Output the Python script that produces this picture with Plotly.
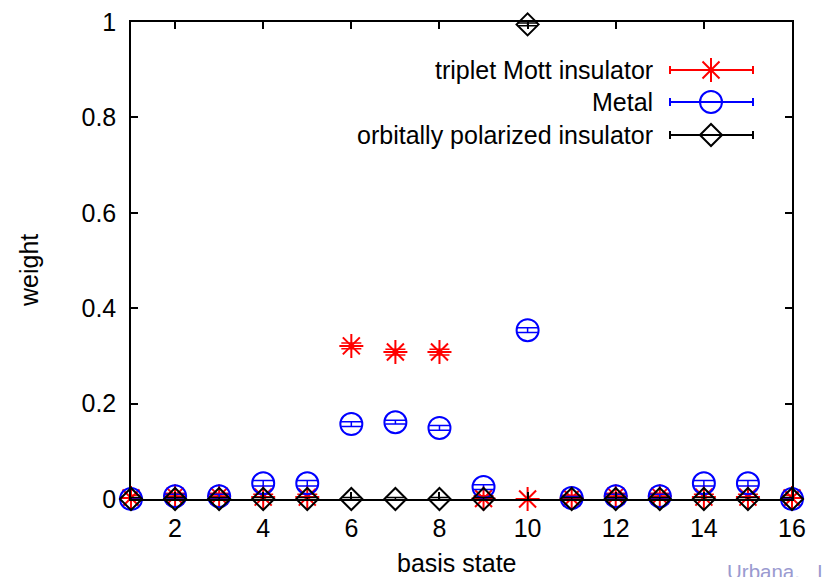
import plotly.graph_objects as go

states = list(range(1, 17))
triplet = [0.002, 0.006, 0.006, 0.004, 0.004, 0.321, 0.308, 0.308, 0.001, 0.000, 0.002, 0.006, 0.006, 0.004, 0.004, 0.002]
triplet_err = [0.006, 0.006, 0.006, 0.006, 0.006, 0.006, 0.006, 0.006, 0.006, 0.0, 0.006, 0.006, 0.006, 0.006, 0.006, 0.006]
metal = [0.000, 0.006, 0.006, 0.033, 0.033, 0.157, 0.161, 0.149, 0.025, 0.354, 0.002, 0.006, 0.006, 0.033, 0.033, 0.000]
metal_err = [0.002, 0.004, 0.004, 0.006, 0.006, 0.005, 0.004, 0.005, 0.005, 0.005, 0.003, 0.004, 0.004, 0.006, 0.006, 0.002]
opi = [0.0] * 9 + [0.995] + [0.0] * 6
opi_err = [0.003] * 16

names = ["triplet Mott insulator", "Metal", "orbitally polarized insulator"]
colors = ["#ff0000", "#0000ff", "#000000"]
xticks = [2, 4, 6, 8, 10, 12, 14, 16]
yticks = [0, 0.2, 0.4, 0.6, 0.8, 1]
ytick_text = ["0", "0.2", "0.4", "0.6", "0.8", "1"]

FONT = "Liberation Sans, Arial, sans-serif"
W, H = 823, 577
L, R, T, B = 131, 31, 22, 78
PW, PH = W - L - R, H - T - B


def px_x(px):
    return (px - L) / PW


def px_y(py):
    return 1 - (py - T) / PH


fig = go.Figure()

series = [
    (triplet, triplet_err, "asterisk-open", 20),
    (metal, metal_err, "circle-open", 22),
    (opi, opi_err, "diamond-open", 17),
]
for (vals, errs, sym, size), name, col in zip(series, names, colors):
    fig.add_trace(go.Scatter(
        x=states, y=vals, mode="markers", name=name, showlegend=False,
        cliponaxis=False,
        marker=dict(symbol=sym, size=size, color=col, line=dict(color=col, width=2)),
        error_y=dict(type="data", array=errs, visible=True, color=col, thickness=1.5, width=10),
    ))

# manual legend (gnuplot style: right-aligned text, sample with caps on the right)
leg_y_px = [70, 102, 135]
x0_px, x1_px, xm_px = 670, 753, 711
for i, (name, col) in enumerate(zip(names, colors)):
    yp = px_y(leg_y_px[i])
    fig.add_annotation(
        x=px_x(655), y=yp, xref="paper", yref="paper",
        text=name, showarrow=False, xanchor="right", yanchor="middle",
        font=dict(family=FONT, size=25, color="#000000"),
    )
    fig.add_shape(type="line", xref="paper", yref="paper",
                  x0=px_x(x0_px), x1=px_x(x1_px), y0=yp, y1=yp,
                  line=dict(color=col, width=2))
    for xc in (x0_px, x1_px):
        fig.add_shape(type="line", xref="paper", yref="paper",
                      x0=px_x(xc), x1=px_x(xc),
                      y0=yp - 4 / PH, y1=yp + 4 / PH,
                      line=dict(color=col, width=2))
    fig.add_trace(go.Scatter(
        x=[px_x(xm_px)], y=[yp], xaxis="x2", yaxis="y2",
        mode="markers", showlegend=False, cliponaxis=False, hoverinfo="skip",
        marker=dict(symbol=series[i][2], size=series[i][3], color=col,
                    line=dict(color=col, width=2)),
    ))

# axis titles
fig.add_annotation(
    x=px_x(29), y=px_y(271), xref="paper", yref="paper", text="weight",
    textangle=-90, showarrow=False, xanchor="center", yanchor="middle",
    font=dict(family=FONT, size=25, color="#000000"),
)
fig.add_annotation(
    x=px_x(457), y=px_y(563), xref="paper", yref="paper", text="basis state",
    showarrow=False, xanchor="center", yanchor="middle",
    font=dict(family=FONT, size=25, color="#000000"),
)
# slide footer text (partly outside the page, as in the reference)
fig.add_annotation(
    x=px_x(725), y=px_y(558), xref="paper", yref="paper",
    text="Urbana,\u00a0\u00a0\u00a0IL",
    showarrow=False, xanchor="left", yanchor="top",
    font=dict(family=FONT, size=20.5, color="#9a9ad0"),
)

axis_common = dict(
    showline=True, linecolor="#000000", linewidth=1.5, mirror="allticks",
    ticks="inside", ticklen=7, tickwidth=1.5, tickcolor="#000000",
    showgrid=False, zeroline=False, automargin=False,
    tickfont=dict(family=FONT, size=25, color="#000000"),
)

fig.update_layout(
    template="none",
    width=W, height=H,
    margin=dict(l=L, r=R, t=T, b=B, pad=0, autoexpand=False),
    paper_bgcolor="#ffffff", plot_bgcolor="#ffffff",
    showlegend=False,
    xaxis=dict(range=[1, 16], tickvals=xticks, ticklabelstandoff=6, **axis_common),
    yaxis=dict(range=[0, 1], tickvals=yticks, ticktext=ytick_text, ticklabelstandoff=8, **axis_common),
    xaxis2=dict(range=[0, 1], overlaying="x", visible=False),
    yaxis2=dict(range=[0, 1], overlaying="y", visible=False),
)

fig.write_html("out.html")
